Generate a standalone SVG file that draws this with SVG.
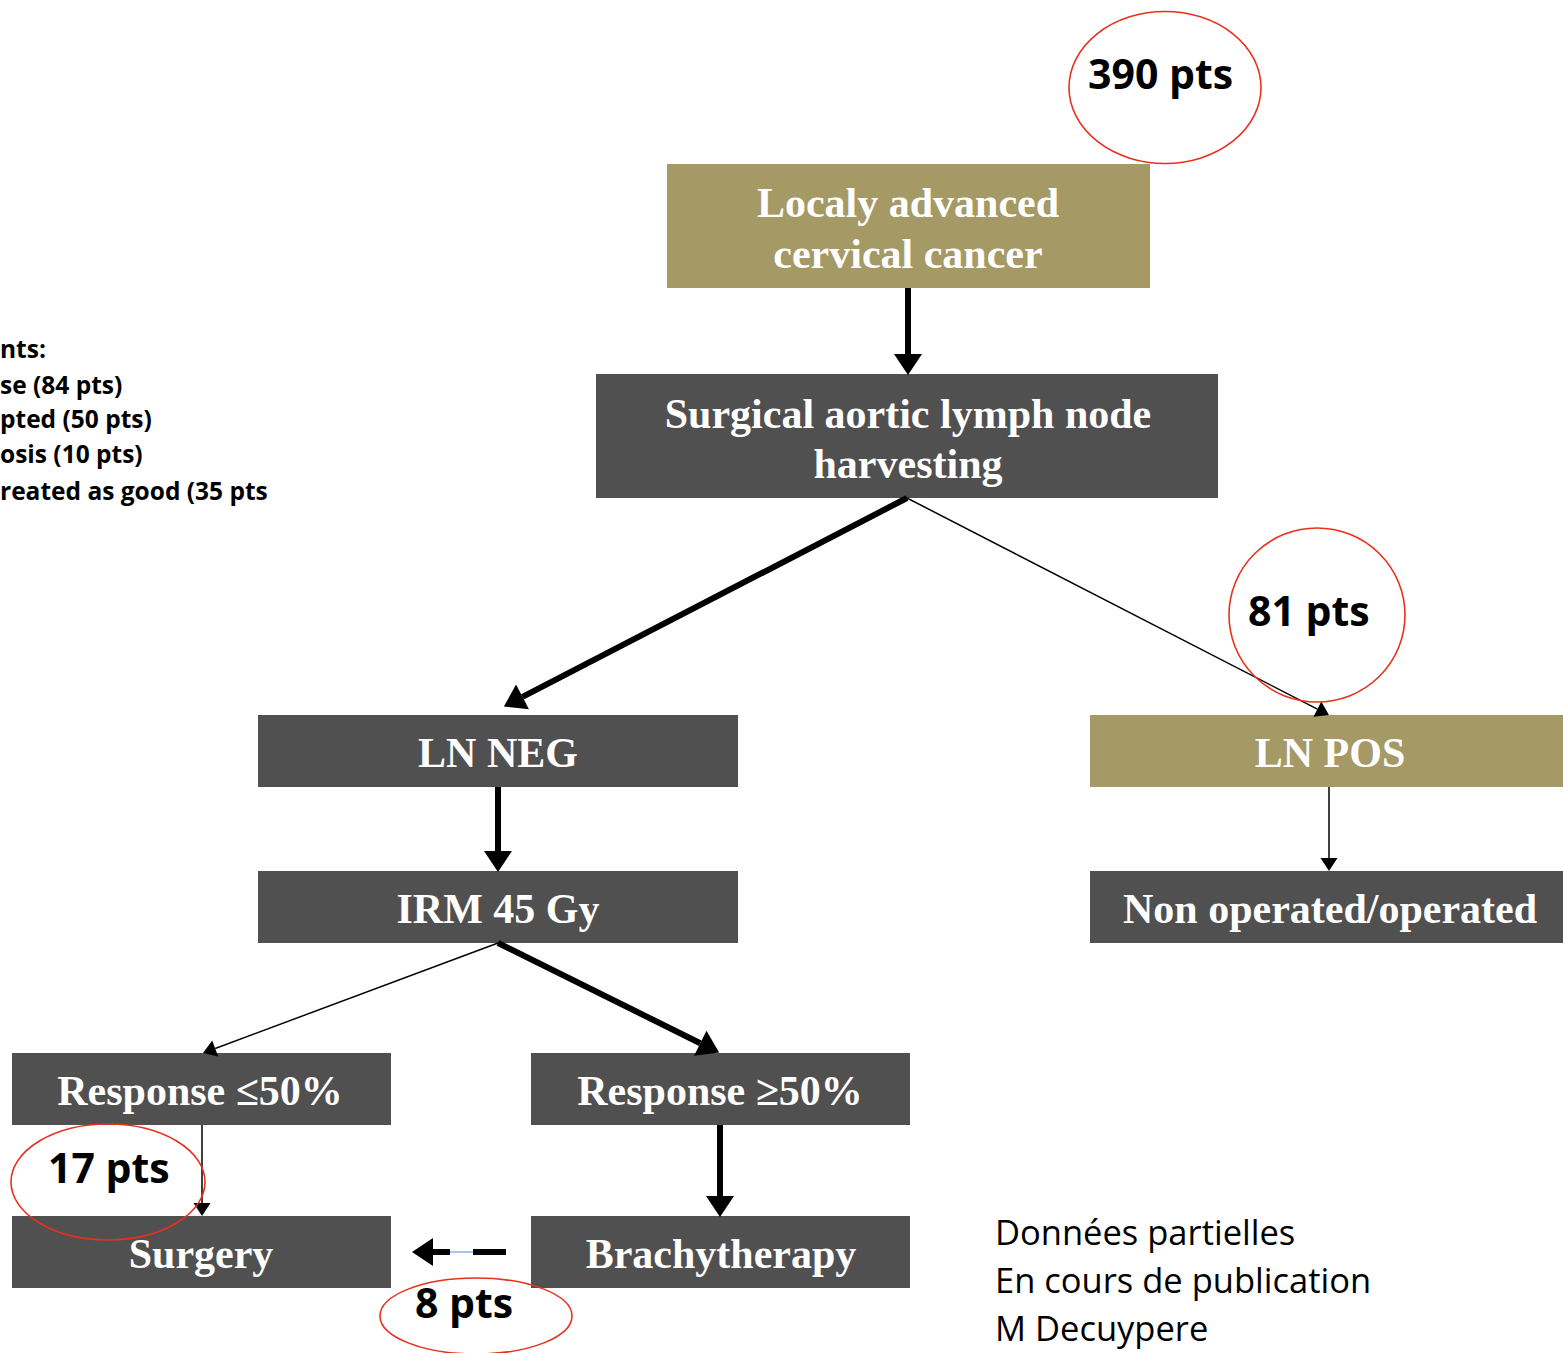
<svg xmlns="http://www.w3.org/2000/svg" width="1563" height="1353" viewBox="0 0 1563 1353">
<style>
.tan{fill:#a59966}
.dk{fill:#505050}
.bt{font-family:"Liberation Serif","Times New Roman",serif;font-weight:bold;font-size:42px;fill:#ffffff;text-anchor:middle}
.pts{font-family:"Open Sans","Liberation Sans",sans-serif;font-weight:bold;font-size:41px;fill:#000}
.side{font-family:"Open Sans","Liberation Sans",sans-serif;font-weight:bold;font-size:24.5px;fill:#000}
.note{font-family:"Open Sans","Liberation Sans",sans-serif;font-size:34.5px;fill:#000}
.ring{fill:none;stroke:#e8301c;stroke-width:1.6}
.thick{stroke:#000;stroke-width:6;fill:none}
.thin{stroke:#000;stroke-width:1.5;fill:none}
</style>
<defs>
<marker id="ahB" markerUnits="userSpaceOnUse" markerWidth="22" markerHeight="28" refX="0" refY="14" orient="auto" overflow="visible"><path d="M0,0 L21,14 L0,28 z" fill="#000"/></marker>
<marker id="ahS" markerUnits="userSpaceOnUse" markerWidth="14" markerHeight="18" refX="0" refY="8.5" orient="auto" overflow="visible"><path d="M0,0 L13,8.5 L0,17 z" fill="#000"/></marker>
</defs>
<rect width="1563" height="1353" fill="#ffffff"/>

<g id="side-text">
<text class="side" x="0" y="358">nts:</text>
<text class="side" x="0" y="394">se (84 pts)</text>
<text class="side" x="0" y="428">pted (50 pts)</text>
<text class="side" x="0" y="463">osis (10 pts)</text>
<text class="side" x="0" y="500">reated as good (35 pts</text>
</g>

<g id="node-lacc"><rect class="tan" x="667" y="164" width="483" height="124"/>
<text class="bt" x="908" y="217">Localy advanced</text><text class="bt" x="908" y="268">cervical cancer</text></g>
<g id="node-surgical"><rect class="dk" x="596" y="374" width="622" height="124"/>
<text class="bt" x="908" y="428">Surgical aortic lymph node</text><text class="bt" x="908" y="478">harvesting</text></g>
<g id="node-lnneg"><rect class="dk" x="258" y="715" width="480" height="72"/><text class="bt" x="498" y="767">LN NEG</text></g>
<g id="node-lnpos"><rect class="tan" x="1090" y="715" width="473" height="72"/><text class="bt" x="1330" y="767">LN POS</text></g>
<g id="node-irm"><rect class="dk" x="258" y="871" width="480" height="72"/><text class="bt" x="498" y="923">IRM 45 Gy</text></g>
<g id="node-nonop"><rect class="dk" x="1090" y="871" width="473" height="72"/><text class="bt" x="1330" y="923">Non operated/operated</text></g>
<g id="node-resp-le"><rect class="dk" x="12" y="1053" width="379" height="72"/><text class="bt" x="200" y="1105">Response ≤50%</text></g>
<g id="node-resp-ge"><rect class="dk" x="531" y="1053" width="379" height="72"/><text class="bt" x="720" y="1105">Response ≥50%</text></g>
<g id="node-surgery"><rect class="dk" x="12" y="1216" width="379" height="72"/><text class="bt" x="201" y="1268">Surgery</text></g>
<g id="node-brachy"><rect class="dk" x="531" y="1216" width="379" height="72"/><text class="bt" x="721" y="1268">Brachytherapy</text></g>

<g id="connectors">
<line class="thick" x1="908" y1="288" x2="908" y2="354" marker-end="url(#ahB)"/>
<line class="thick" x1="907" y1="498" x2="522.5" y2="696.9" marker-end="url(#ahB)"/>
<line class="thin" x1="907" y1="498" x2="1317.4" y2="709.1" marker-end="url(#ahS)"/>
<line class="thick" x1="498" y1="787" x2="498" y2="851" marker-end="url(#ahB)"/>
<line class="thin" x1="1329" y1="787" x2="1329" y2="858" marker-end="url(#ahS)"/>
<line class="thin" x1="498" y1="943" x2="215.2" y2="1048.5" marker-end="url(#ahS)"/>
<line class="thick" x1="498" y1="943" x2="700.3" y2="1043.2" marker-end="url(#ahB)"/>
<line class="thick" x1="720" y1="1125" x2="720" y2="1196" marker-end="url(#ahB)"/>
<line class="thin" x1="202" y1="1125" x2="202" y2="1203" marker-end="url(#ahS)"/>
<line x1="506" y1="1252" x2="433" y2="1252" stroke="#8fb0e8" stroke-width="1.5"/>
<line class="thick" x1="506" y1="1252" x2="433" y2="1252" stroke-dasharray="33 23 17" marker-end="url(#ahB)"/>
</g>

<g id="badge-390"><ellipse class="ring" cx="1165" cy="87.5" rx="96" ry="76"/><text class="pts" x="1088" y="89">390 pts</text></g>
<g id="badge-81"><ellipse class="ring" cx="1317" cy="615" rx="88" ry="87"/><text class="pts" x="1248" y="626">81 pts</text></g>
<g id="badge-17"><ellipse class="ring" cx="108" cy="1182" rx="97" ry="58"/><text class="pts" x="48" y="1183">17 pts</text></g>
<g id="badge-8"><ellipse class="ring" cx="476" cy="1316" rx="96" ry="38"/><text class="pts" x="415" y="1318">8 pts</text></g>

<g id="note">
<text class="note" x="995" y="1245">Données partielles</text>
<text class="note" x="995" y="1293">En cours de publication</text>
<text class="note" x="995" y="1341">M Decuypere</text>
</g>
</svg>
